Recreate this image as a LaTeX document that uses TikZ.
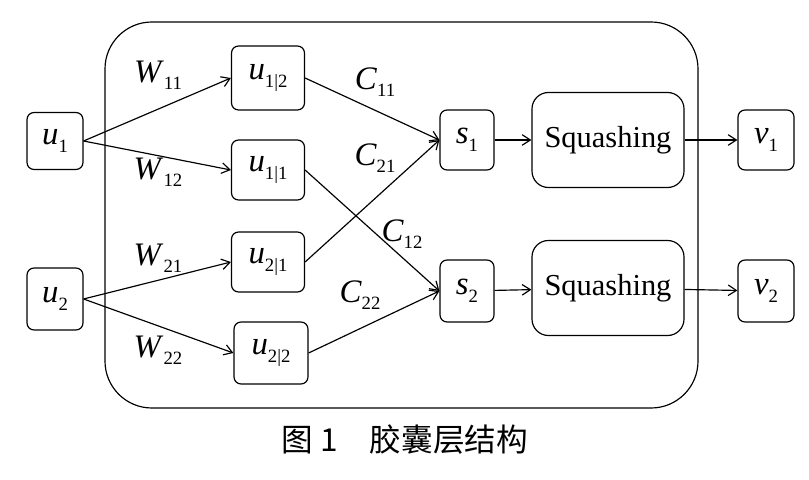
\documentclass[tikz,border=0pt]{standalone}
\usepackage{fontspec}
\setmainfont{Liberation Serif}
\newfontfamily\cjk{Noto Sans CJK SC}
\usetikzlibrary{arrows.meta}
\newcommand{\vsub}[2]{{\fontsize{28}{30}\selectfont\textit{#1}}\raisebox{-0.55ex}{\fontsize{16}{16}\selectfont #2}}
\begin{document}
\begin{tikzpicture}[x=0.03cm,y=-0.03cm,
  box/.style={draw,rounded corners=6pt,line width=1pt,inner sep=0pt,font=\fontsize{26}{30}\selectfont},
  arr/.style={-{Straight Barb[length=7pt,width=9pt,line width=1pt]},line width=1pt},
  lab/.style={font=\fontsize{24}{28}\selectfont}]
\useasboundingbox (0,0) rectangle (809,480);
\draw[line width=1pt,rounded corners=40pt] (105,22) rectangle (698,408);
\node[box,minimum width=1.68cm,minimum height=1.71cm] (u1) at (55,141) {\vsub{u}{1}};
\node[box,minimum width=1.68cm,minimum height=1.86cm] (u2) at (55,299) {\vsub{u}{2}};
\node[box,minimum width=2.19cm,minimum height=1.92cm] (u12) at (268,78) {\vsub{u}{1|2}};
\node[box,minimum width=2.19cm,minimum height=1.8cm] (u11) at (268,170) {\vsub{u}{1|1}};
\node[box,minimum width=2.19cm,minimum height=1.8cm] (u21) at (268,262) {\vsub{u}{2|1}};
\node[box,minimum width=2.22cm,minimum height=1.86cm] (u22) at (271,353) {\vsub{u}{2|2}};
\node[box,minimum width=1.62cm,minimum height=1.8cm] (s1) at (467,140) {\vsub{s}{1}};
\node[box,minimum width=1.62cm,minimum height=1.86cm] (s2) at (467,291) {\vsub{s}{2}};
\node[box,rounded corners=14pt,minimum width=4.56cm,minimum height=2.85cm] (q1) at (608,140) {Squashing};
\node[box,rounded corners=14pt,minimum width=4.56cm,minimum height=2.85cm] (q2) at (608,288) {Squashing};
\node[box,minimum width=1.68cm,minimum height=1.8cm] (v1) at (766,140) {\vsub{v}{1}};
\node[box,minimum width=1.68cm,minimum height=1.86cm] (v2) at (766,291) {\vsub{v}{2}};
\draw[arr] (u1.east) -- (u12.west);
\draw[arr] (u1.east) -- (u11.west);
\draw[arr] (u2.east) -- (u21.west);
\draw[arr] (u2.east) -- (u22.west);
\draw[arr] (u12.east) -- (s1.west);
\draw[arr] (u21.east) -- (s1.west);
\draw[arr] (u11.east) -- (s2.west);
\draw[arr] (u22.east) -- (s2.west);
\draw[arr] (s1) -- (q1);
\draw[arr] (s2) -- (q2);
\draw[arr] (q1) -- (v1);
\draw[arr] (q2) -- (v2);
\node[lab] at (158,75) {\vsub{W}{11}};
\node[lab] at (158,172) {\vsub{W}{12}};
\node[lab] at (158,258) {\vsub{W}{21}};
\node[lab] at (158,350) {\vsub{W}{22}};
\node[lab] at (375,82) {\vsub{C}{11}};
\node[lab] at (375,158) {\vsub{C}{21}};
\node[lab] at (402,234) {\vsub{C}{12}};
\node[lab] at (360,295) {\vsub{C}{22}};
\node[font=\cjk\fontsize{27}{30}\selectfont] (cap) at (405,440) {图 1\quad 胶囊层结构};
\end{tikzpicture}
\end{document}
